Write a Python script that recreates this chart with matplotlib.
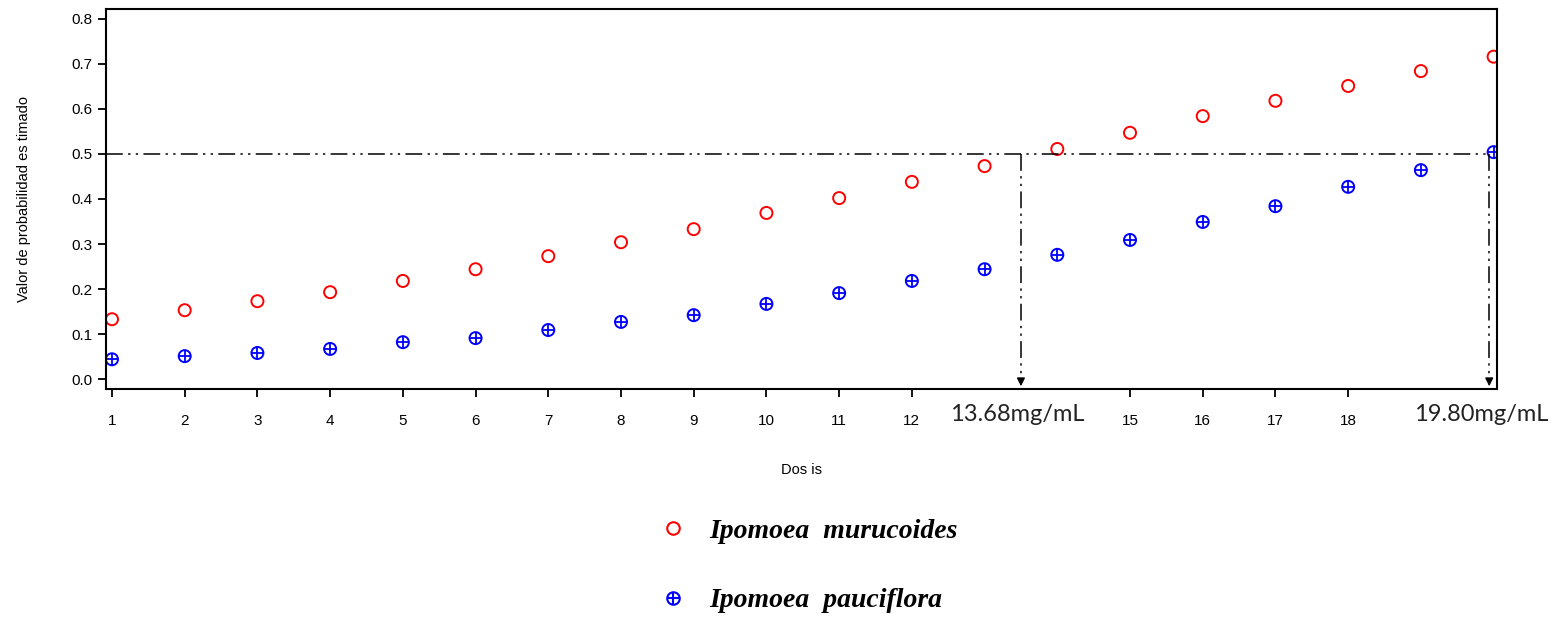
import matplotlib
matplotlib.use("Agg")
import matplotlib.pyplot as plt
from matplotlib.lines import Line2D
from matplotlib.legend_handler import HandlerTuple

# dose index and estimated probabilities
dosis = list(range(1, 21))
murucoides = [0.133, 0.153, 0.173, 0.193, 0.218, 0.244, 0.273, 0.304, 0.333, 0.369,
              0.402, 0.438, 0.473, 0.511, 0.547, 0.584, 0.618, 0.651, 0.684, 0.716]
pauciflora = [0.044, 0.051, 0.058, 0.067, 0.082, 0.091, 0.109, 0.127, 0.142, 0.167,
              0.191, 0.218, 0.244, 0.276, 0.309, 0.349, 0.384, 0.427, 0.464, 0.504]
x_ticks = [1, 2, 3, 4, 5, 6, 7, 8, 9, 10, 11, 12, 15, 16, 17, 18]
y_ticks = [0.0, 0.1, 0.2, 0.3, 0.4, 0.5, 0.6, 0.7, 0.8]
cut_x = [13.5, 19.94]
cut_label_x = [13.45, 19.83]
cut_labels = ["13.68mg/mL", "19.80mg/mL"]
species = ["Ipomoea  murucoides", "Ipomoea  pauciflora"]

plt.rcParams["font.family"] = ["Liberation Sans", "DejaVu Sans"]

fig = plt.figure(figsize=(15.58, 6.17), dpi=100)
ax = fig.add_axes([0.068, 0.3695, 0.893, 0.616])

dashdotdot = (11, 3.5, 1.5, 3.5, 1.5, 3.5)

ax.plot([0.917, cut_x[1]], [0.5, 0.5], color="black", lw=1.1, dashes=dashdotdot)
for cx in cut_x:
    ax.plot([cx, cx], [0.5, 0.0], color="black", lw=1.1, dashes=dashdotdot)
    ax.annotate("", xy=(cx, -0.022), xytext=(cx, 0.005),
                arrowprops=dict(arrowstyle="-|>", color="black", lw=1.0,
                                mutation_scale=12))

ax.scatter(dosis, murucoides, s=75, facecolors="none", edgecolors="red", linewidths=1.4)
ax.scatter(dosis, pauciflora, s=75, facecolors="none", edgecolors="blue", linewidths=1.4)
ax.scatter(dosis, pauciflora, s=75, marker="+", color="blue", linewidths=1.3)

ax.set_xlim(0.917, 20.05)
ax.set_ylim(-0.022, 0.822)
ax.set_xticks(x_ticks)
ax.set_xticklabels([str(t) for t in x_ticks])
ax.set_yticks(y_ticks)
ax.set_yticklabels(["%.1f" % t for t in y_ticks])
ax.tick_params(axis="both", direction="out", length=6, width=1.3, labelsize=11, colors="black")
ax.tick_params(axis="x", pad=12)
for sp in ax.spines.values():
    sp.set_linewidth(1.5)

for cx, lab in zip(cut_label_x, cut_labels):
    ax.text(cx, -0.078, lab, ha="center", va="center", fontsize=17,
            family=["Lato", "DejaVu Sans"], color="#222222")

ax.set_xlabel("Dos is", fontsize=10.5, labelpad=25)
ax.set_ylabel("Valor de probabilidad es timado", fontsize=10.5, labelpad=29)

h_red = Line2D([], [], ls="none", marker="o", ms=9, mfc="none", mec="red", mew=1.5)
h_blue_o = Line2D([], [], ls="none", marker="o", ms=9, mfc="none", mec="blue", mew=1.5)
h_blue_p = Line2D([], [], ls="none", marker="+", ms=9, mec="blue", mew=1.5)
ax.legend([h_red, (h_blue_o, h_blue_p)], species,
          handler_map={tuple: HandlerTuple(ndivide=1, pad=0)},
          loc="center", bbox_to_anchor=(0.519, 0.083), bbox_transform=fig.transFigure,
          frameon=False, labelspacing=1.6, handlelength=1.0, handletextpad=0.8,
          prop={"family": "Liberation Serif", "style": "italic", "weight": "bold", "size": 20})

fig.savefig("out.png", dpi=100)
